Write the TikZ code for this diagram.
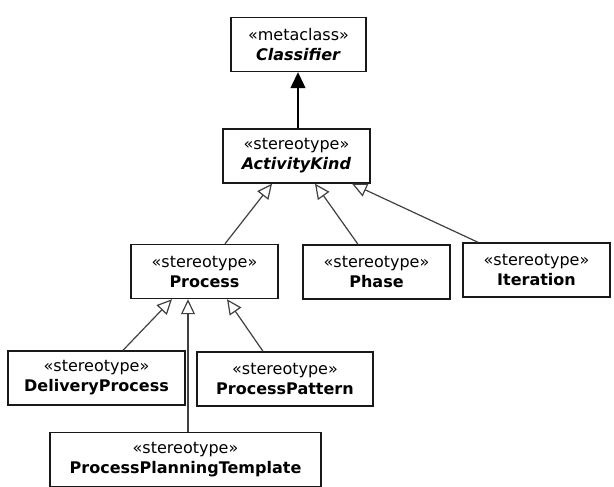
\documentclass[tikz,border=0pt]{standalone}
\usepackage{fontspec}
\setmainfont{DejaVu Sans}
\usetikzlibrary{arrows.meta,calc}

\begin{document}
\begin{tikzpicture}[x=1pt, y=-1pt,
  stereo/.style={draw=black!90, line width=1.4pt, fill=white, minimum width=#1,
                 minimum height=54pt, inner sep=0pt, align=center,
                 font=\fontsize{16}{20}\selectfont},
  gen/.style={draw=black!75, line width=1.2pt,
              -{Triangle[open, length=15pt, width=14pt, fill=white]}},
  inh/.style={draw=black, line width=1.3pt, -{Triangle[length=16pt, width=15pt]}}]

  \useasboundingbox (0,0) rectangle (614,487);

  \node[stereo=135pt] (classifier) at (298.5, 44.5) {«metaclass»\\\textbf{\textit{Classifier}}};
  \node[stereo=147pt] (akind)      at (296.5, 156)  {«stereotype»\\\textbf{\textit{ActivityKind}}};

  \node[stereo=147pt] (proc)  at (204.5, 271.5) {«stereotype»\\\textbf{Process}};
  \node[stereo=147pt] (phase) at (376.5, 272)   {«stereotype»\\\textbf{Phase}};
  \node[stereo=147pt] (iter)  at (536.5, 270)   {«stereotype»\\\textbf{Iteration}};

  \node[stereo=177pt] (dproc) at (96.5, 378)    {«stereotype»\\\textbf{DeliveryProcess}};
  \node[stereo=176pt] (ppat)  at (285, 379)     {«stereotype»\\\textbf{ProcessPattern}};
  \node[stereo=271pt] (ppt)   at (185.5, 459.5) {«stereotype»\\\textbf{ProcessPlanningTemplate}};

  % ActivityKind is a Classifier
  \draw[inh] ([xshift=1.5pt]akind.north) -- ([xshift=-0.5pt]classifier.south);

  % kinds of activity
  \draw[gen] ([xshift=20.5pt]proc.north)   -- ([xshift=-24.5pt]akind.south);
  \draw[gen] ([xshift=-18.5pt]phase.north) -- ([xshift=18.5pt]akind.south);
  \draw[gen] ([xshift=-58.5pt]iter.north)  -- ([xshift=55.5pt]akind.south);

  % kinds of process
  \draw[gen] ([xshift=26.5pt]dproc.north) -- ([xshift=-32.5pt]proc.south);
  \draw[gen] ([xshift=2.5pt]ppt.north)    -- ([xshift=-16.5pt]proc.south);
  \draw[gen] ([xshift=-22pt]ppat.north)   -- ([xshift=22.5pt]proc.south);
\end{tikzpicture}
\end{document}
